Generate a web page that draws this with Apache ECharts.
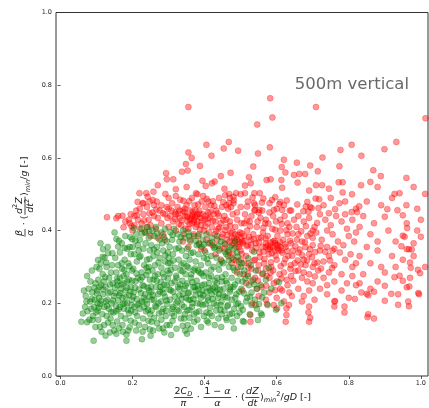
<!DOCTYPE html>
<html>
<head>
<meta charset="utf-8">
<script src="https://cdn.jsdelivr.net/npm/echarts/dist/echarts.min.js"></script>
<style>
  html, body { margin: 0; padding: 0; background: #fff; }
  #chart { width: 429px; height: 408px; }
</style>
</head>
<body>
<div id="chart"></div>
<script>
// Red cloud: [x, y] pairs
const redPoints = [
  // sparse upper points
  [0.355,0.740],[0.582,0.764],[0.709,0.740],[0.588,0.711],[0.546,0.692],[1.013,0.709],[0.405,0.636],[0.467,0.644],
  [0.453,0.626],[0.581,0.629],[0.808,0.636],[0.932,0.644],[0.899,0.624],[0.777,0.622],[0.355,0.615],[0.493,0.620],
  [0.548,0.612],[0.835,0.606],[0.727,0.601],[0.620,0.595],[0.656,0.587],[0.535,0.576],[0.614,0.575],[0.693,0.579],
  [0.774,0.577],[0.472,0.559],[0.624,0.560],[0.714,0.563],[0.868,0.566],[0.889,0.550],[0.523,0.547],[0.648,0.553],
  [0.663,0.556],[0.679,0.556],[0.419,0.606],[0.348,0.583],[0.364,0.600],[0.387,0.578],[0.293,0.558],[0.337,0.562],
  [0.353,0.565],[0.445,0.550],
  // 0.50 - 0.55
  [0.295,0.541],[0.313,0.541],[0.394,0.537],[0.428,0.535],[0.420,0.530],[0.403,0.523],[0.320,0.514],[0.583,0.541],
  [0.572,0.539],[0.528,0.530],[0.613,0.539],[0.658,0.532],[0.709,0.525],[0.726,0.525],[0.772,0.533],[0.783,0.533],
  [0.834,0.525],[0.860,0.534],[0.512,0.524],[0.615,0.518],[0.783,0.505],[0.809,0.500],[0.927,0.501],[0.941,0.503],
  [0.487,0.503],[0.512,0.503],[0.538,0.503],[0.553,0.503],[0.258,0.507],[0.238,0.503],[0.219,0.503],[0.291,0.501],
  [0.376,0.503],[0.468,0.501],[1.012,0.501],[0.350,0.520],[0.270,0.525],[0.455,0.515],[0.690,0.510],[0.745,0.515],
  [0.880,0.520],[0.960,0.545],[0.980,0.520],
  // 0.45 - 0.50
  [0.410,0.480],[0.423,0.481],[0.341,0.482],[0.357,0.481],[0.214,0.479],[0.228,0.475],[0.247,0.480],[0.267,0.480],
  [0.256,0.484],[0.457,0.497],[0.480,0.493],[0.396,0.495],[0.242,0.493],[0.559,0.477],[0.587,0.484],[0.610,0.479],
  [0.607,0.473],[0.481,0.483],[0.468,0.475],[0.537,0.475],[0.473,0.465],[0.518,0.466],[0.540,0.457],[0.552,0.457],
  [0.592,0.457],[0.615,0.457],[0.300,0.490],[0.320,0.495],[0.365,0.490],[0.380,0.500],[0.440,0.490],[0.500,0.500],
  // right side
  [0.900,0.438],[0.935,0.456],[0.907,0.459],[0.950,0.442],[0.961,0.420],[0.962,0.407],[0.955,0.383],[0.950,0.386],
  [1.000,0.383],[0.946,0.357],[0.961,0.349],[0.967,0.349],[0.975,0.348],[0.970,0.312],[0.972,0.298],[0.992,0.292],
  [0.998,0.283],[1.012,0.300],[0.927,0.272],[0.941,0.276],[0.950,0.262],[0.970,0.270],[0.968,0.246],[0.900,0.248],
  [0.937,0.225],[0.961,0.244],[0.995,0.225],[0.918,0.226],[0.900,0.207],[0.937,0.196],[0.965,0.205],[0.967,0.192],
  [0.993,0.228],[0.817,0.212],[0.835,0.230],[0.850,0.226],[0.854,0.222],[0.870,0.232],[0.820,0.250],[0.854,0.170],
  [0.852,0.162],[0.870,0.158],
  [0.930,0.370],[0.980,0.365],[0.990,0.400],[0.920,0.330],[0.890,0.300],[0.880,0.345],[0.860,0.390],[0.870,0.420],
  [0.840,0.440],[0.820,0.460],[0.850,0.480],[0.890,0.470],[0.920,0.490],[0.960,0.470],[0.990,0.460],[1.000,0.430],
  [0.910,0.400],[0.880,0.370],[0.850,0.355],[0.830,0.330],[0.860,0.310],[0.900,0.285],[0.840,0.280],[0.810,0.300],
  [0.880,0.260],[0.830,0.255],[0.860,0.240],[0.930,0.300],[0.950,0.320],[0.980,0.330],
  // middle right
  [0.674,0.453],[0.681,0.466],[0.697,0.462],[0.762,0.459],[0.808,0.451],[0.823,0.451],[0.708,0.488],[0.718,0.486],
  [0.685,0.479],[0.693,0.465],[0.774,0.475],[0.829,0.467],[0.636,0.455],[0.730,0.470],[0.750,0.490],[0.790,0.480],
  [0.660,0.440],[0.675,0.425],[0.690,0.435],[0.705,0.410],[0.720,0.445],[0.735,0.430],[0.750,0.415],[0.765,0.440],
  [0.780,0.425],[0.795,0.405],[0.810,0.430],[0.700,0.400],[0.740,0.400],[0.655,0.410],[0.790,0.445],[0.830,0.410],
  [0.660,0.390],[0.670,0.370],[0.685,0.385],[0.700,0.360],[0.710,0.395],[0.725,0.375],[0.740,0.355],[0.755,0.390],
  [0.770,0.370],[0.785,0.360],[0.800,0.385],[0.815,0.370],[0.700,0.380],[0.760,0.350],[0.820,0.395],[0.680,0.355],
  [0.660,0.340],[0.675,0.320],[0.690,0.335],[0.705,0.310],[0.720,0.345],[0.730,0.315],[0.745,0.330],[0.760,0.305],
  [0.775,0.340],[0.790,0.320],[0.805,0.335],[0.820,0.310],[0.700,0.300],[0.680,0.305],[0.755,0.345],
  [0.660,0.290],[0.670,0.270],[0.690,0.280],[0.700,0.255],[0.715,0.290],[0.730,0.270],[0.745,0.285],[0.760,0.260],
  [0.780,0.280],[0.795,0.255],[0.810,0.275],[0.685,0.260],[0.740,0.250],
  [0.660,0.240],[0.675,0.220],[0.690,0.235],[0.705,0.210],[0.720,0.240],[0.740,0.225],[0.760,0.205],[0.780,0.235],
  [0.800,0.215],[0.670,0.205],
  [0.690,0.149],[0.693,0.160],[0.688,0.175],[0.690,0.191],[0.788,0.175],[0.788,0.191],[0.760,0.191],[0.762,0.206],
  // left lobe
  [0.129,0.437],[0.155,0.434],[0.160,0.440],[0.172,0.441],[0.175,0.409],[0.190,0.430],[0.192,0.420],[0.195,0.445],
  [0.197,0.412],[0.200,0.400],[0.205,0.440],[0.210,0.455],[0.215,0.430],[0.220,0.460],[0.225,0.420],[0.230,0.445],
  [0.235,0.395],[0.240,0.465],[0.245,0.430],[0.250,0.415],[0.255,0.450],[0.260,0.470],[0.265,0.405],[0.270,0.435],
  [0.275,0.455],[0.280,0.420],[0.285,0.390],[0.290,0.445],[0.295,0.465],[0.300,0.410],[0.220,0.405],[0.180,0.425],
  [0.250,0.385],[0.270,0.380],[0.290,0.375],[0.205,0.415],[0.230,0.475],[0.260,0.440],[0.280,0.470],[0.240,0.410],
  // dense upper core
  [0.300,0.460],[0.305,0.440],[0.310,0.475],[0.312,0.425],[0.318,0.450],[0.320,0.400],[0.325,0.465],[0.330,0.435],
  [0.332,0.485],[0.335,0.415],[0.340,0.455],[0.342,0.390],[0.345,0.440],[0.350,0.470],[0.352,0.425],[0.355,0.405],
  [0.360,0.455],[0.362,0.435],[0.365,0.420],[0.368,0.445],[0.370,0.430],[0.372,0.470],[0.375,0.410],[0.378,0.440],
  [0.380,0.425],[0.382,0.385],[0.385,0.455],[0.388,0.435],[0.390,0.415],[0.392,0.480],[0.395,0.445],[0.398,0.400],
  [0.400,0.430],[0.402,0.465],[0.405,0.375],[0.408,0.420],[0.410,0.450],[0.412,0.395],[0.415,0.435],[0.418,0.470],
  [0.420,0.410],[0.422,0.360],[0.425,0.445],[0.428,0.390],[0.430,0.425],[0.432,0.455],[0.435,0.375],[0.438,0.405],
  [0.440,0.440],[0.442,0.350],[0.445,0.420],[0.448,0.465],[0.450,0.390],[0.340,0.370],[0.355,0.355],[0.370,0.390],
  [0.385,0.365],[0.400,0.345],[0.415,0.365],[0.430,0.335],[0.360,0.375],[0.390,0.350],[0.375,0.455],[0.360,0.430],
  [0.365,0.440],[0.370,0.425],[0.350,0.440],[0.330,0.455],[0.320,0.445],[0.345,0.460],[0.380,0.445],
  // dense central core
  [0.455,0.440],[0.460,0.410],[0.462,0.375],[0.465,0.460],[0.468,0.340],[0.470,0.425],[0.472,0.395],[0.475,0.360],
  [0.478,0.445],[0.480,0.320],[0.482,0.380],[0.485,0.410],[0.488,0.355],[0.490,0.430],[0.492,0.300],[0.495,0.370],
  [0.498,0.395],[0.500,0.345],[0.502,0.420],[0.505,0.365],[0.508,0.280],[0.510,0.385],[0.512,0.445],[0.515,0.330],
  [0.518,0.400],[0.520,0.360],[0.522,0.310],[0.525,0.425],[0.528,0.375],[0.530,0.260],[0.532,0.345],[0.535,0.390],
  [0.538,0.455],[0.540,0.320],[0.542,0.365],[0.545,0.410],[0.548,0.290],[0.550,0.380],[0.552,0.340],[0.555,0.435],
  [0.558,0.245],[0.560,0.355],[0.562,0.395],[0.565,0.310],[0.568,0.420],[0.570,0.365],[0.572,0.275],[0.575,0.385],
  [0.578,0.335],[0.580,0.450],[0.582,0.355],[0.585,0.300],[0.588,0.405],[0.590,0.370],[0.592,0.255],[0.595,0.345],
  [0.598,0.425],[0.600,0.320],[0.602,0.385],[0.605,0.360],[0.608,0.280],[0.610,0.400],[0.612,0.345],[0.615,0.235],
  [0.618,0.375],[0.620,0.310],[0.622,0.440],[0.625,0.355],[0.628,0.265],[0.630,0.390],[0.632,0.330],[0.635,0.410],
  [0.638,0.295],[0.640,0.365],[0.642,0.220],[0.645,0.345],[0.648,0.430],[0.650,0.310],[0.470,0.370],[0.475,0.380],
  [0.480,0.365],[0.490,0.375],[0.500,0.380],[0.505,0.370],[0.495,0.355],[0.485,0.390],[0.570,0.355],[0.575,0.360],
  [0.580,0.350],[0.590,0.355],[0.600,0.360],[0.605,0.345],[0.610,0.355],[0.595,0.365],[0.550,0.305],[0.560,0.280],
  [0.570,0.295],[0.580,0.270],[0.590,0.290],[0.600,0.260],[0.620,0.285],[0.630,0.250],[0.640,0.275],[0.540,0.270],
  [0.530,0.295],[0.520,0.280],[0.510,0.310],[0.500,0.320],[0.580,0.230],[0.600,0.215],[0.620,0.205],[0.550,0.220],
  [0.570,0.210],[0.610,0.240],[0.635,0.230],[0.527,0.168],[0.527,0.149],[0.532,0.200],[0.541,0.195],[0.573,0.198],
  [0.592,0.195],[0.601,0.186],[0.625,0.149],[0.627,0.168],[0.627,0.186],[0.634,0.195],[0.460,0.470],[0.470,0.490],
  [0.480,0.475],[0.500,0.465],[0.520,0.480],[0.540,0.470],[0.560,0.455],[0.580,0.475],[0.600,0.460],[0.620,0.470],
  [0.640,0.455],[0.630,0.420],[0.610,0.430],[0.590,0.440],[0.570,0.430],[0.550,0.450],[0.530,0.440],[0.510,0.420],
  [0.490,0.450],[0.460,0.430],[0.465,0.330],[0.475,0.310],[0.455,0.350],[0.445,0.320],[0.490,0.285],[0.515,0.255],
  [0.545,0.240],[0.505,0.235],
  // further core points
  [0.318,0.432],[0.327,0.447],[0.336,0.428],[0.344,0.451],[0.353,0.437],[0.358,0.418],[0.367,0.452],[0.373,0.438],
  [0.379,0.417],[0.386,0.446],[0.393,0.428],[0.403,0.441],[0.409,0.433],[0.416,0.452],[0.423,0.427],[0.436,0.447],
  [0.441,0.409],[0.452,0.428],[0.457,0.401],[0.463,0.388],[0.471,0.413],[0.477,0.397],[0.484,0.372],[0.493,0.388],
  [0.497,0.363],[0.503,0.392],[0.511,0.372],[0.517,0.357],[0.523,0.383],[0.529,0.361],[0.536,0.376],[0.543,0.352],
  [0.551,0.367],[0.557,0.381],[0.563,0.342],[0.569,0.378],[0.576,0.348],[0.583,0.367],[0.587,0.338],[0.594,0.372],
  [0.603,0.351],[0.609,0.368],[0.616,0.339],[0.623,0.362],[0.629,0.344],[0.637,0.372],[0.643,0.331],[0.652,0.357],
  [0.658,0.318],[0.664,0.348],[0.671,0.332],[0.678,0.368],[0.684,0.318],[0.692,0.349],[0.698,0.327],[0.707,0.341],
  [0.713,0.312],[0.722,0.358],[0.735,0.342],[0.748,0.318],[0.517,0.428],[0.526,0.412],[0.547,0.425],[0.563,0.408],
  [0.577,0.419],[0.596,0.402],[0.614,0.418],[0.627,0.401],[0.644,0.392],[0.656,0.375],[0.668,0.398],[0.681,0.412],
  [0.694,0.392],[0.712,0.421],[0.537,0.318],[0.553,0.327],[0.566,0.322],[0.584,0.313],[0.597,0.331],[0.611,0.302],
  [0.624,0.322],[0.639,0.305],[0.652,0.289],[0.667,0.307],[0.583,0.285],[0.613,0.268],[0.646,0.262],[0.675,0.285],
  [0.706,0.274],[0.723,0.296],[0.754,0.297],[0.522,0.298],[0.548,0.262],[0.571,0.248],[0.596,0.236],[0.478,0.336],
  [0.487,0.318],[0.503,0.336],[0.457,0.362],[0.447,0.382],[0.432,0.398],[0.402,0.412],[0.387,0.402],[0.347,0.405],
  [0.328,0.418],[0.308,0.455],[0.297,0.435],[0.284,0.448],[0.266,0.458],[0.247,0.448],[0.232,0.428],[0.212,0.442],
  [0.382,0.472],[0.406,0.487],[0.427,0.468],[0.452,0.478],[0.533,0.491],[0.563,0.488],[0.596,0.492],[0.628,0.483],
  [0.657,0.472],[0.688,0.452],[0.716,0.462],[0.745,0.448]
];

// Green cloud: [x, y] pairs
const greenPoints = [
  [0.058,0.149],[0.074,0.148],[0.089,0.154],[0.092,0.097],[0.074,0.275],[0.065,0.235],[0.070,0.220],[0.078,0.240],
  [0.082,0.205],[0.068,0.190],[0.075,0.178],[0.085,0.185],[0.062,0.172],[0.090,0.165],[0.095,0.210],[0.088,0.230],
  [0.097,0.255],[0.083,0.260],[0.093,0.190],[0.072,0.205],[0.099,0.175],[0.080,0.155],[0.097,0.135],[0.087,0.290],
  [0.100,0.300],
  [0.114,0.122],[0.125,0.111],[0.121,0.140],[0.132,0.147],[0.111,0.365],[0.118,0.349],[0.132,0.338],[0.104,0.319],
  [0.112,0.310],[0.122,0.325],[0.108,0.295],[0.128,0.300],[0.140,0.285],[0.117,0.280],[0.105,0.265],[0.135,0.270],
  [0.145,0.255],[0.113,0.250],[0.125,0.245],[0.102,0.235],[0.138,0.232],[0.148,0.220],[0.118,0.225],[0.107,0.215],
  [0.130,0.210],[0.142,0.200],[0.110,0.198],[0.121,0.190],[0.134,0.185],[0.103,0.180],[0.147,0.175],[0.116,0.170],
  [0.128,0.165],[0.139,0.158],[0.105,0.155],[0.145,0.140],[0.110,0.135],[0.149,0.125],[0.137,0.120],[0.103,0.200],
  [0.126,0.205],[0.143,0.305],[0.131,0.355],[0.120,0.260],[0.108,0.245],
  [0.155,0.116],[0.173,0.122],[0.183,0.097],[0.183,0.114],[0.192,0.134],[0.150,0.395],[0.155,0.377],[0.160,0.356],
  [0.199,0.376],[0.170,0.365],[0.185,0.350],[0.165,0.340],[0.195,0.335],[0.152,0.325],[0.178,0.320],[0.188,0.310],
  [0.160,0.305],[0.171,0.295],[0.198,0.290],[0.155,0.285],[0.183,0.280],[0.165,0.270],[0.190,0.265],[0.175,0.255],
  [0.158,0.250],[0.195,0.245],[0.168,0.240],[0.180,0.235],[0.153,0.228],[0.190,0.222],[0.172,0.215],[0.160,0.208],
  [0.185,0.200],[0.197,0.195],[0.165,0.190],[0.176,0.185],[0.155,0.178],[0.190,0.172],[0.168,0.165],[0.180,0.158],
  [0.157,0.150],[0.195,0.152],[0.172,0.140],[0.162,0.132],[0.188,0.125],[0.178,0.200],[0.163,0.222],[0.198,0.210],
  [0.185,0.260],[0.170,0.310],[0.192,0.355],[0.180,0.385],[0.158,0.260],[0.175,0.275],[0.196,0.180],
  [0.203,0.407],[0.206,0.147],[0.226,0.101],[0.228,0.122],[0.210,0.390],[0.220,0.375],[0.235,0.395],[0.245,0.380],
  [0.215,0.360],[0.230,0.350],[0.248,0.345],[0.205,0.335],[0.222,0.330],[0.240,0.320],[0.212,0.315],[0.232,0.305],
  [0.245,0.300],[0.202,0.295],[0.225,0.285],[0.238,0.278],[0.215,0.270],[0.248,0.265],[0.208,0.260],[0.228,0.250],
  [0.242,0.243],[0.218,0.238],[0.203,0.230],[0.235,0.225],[0.247,0.218],[0.212,0.212],[0.226,0.205],[0.240,0.198],
  [0.205,0.190],[0.220,0.185],[0.237,0.178],[0.249,0.170],[0.213,0.165],[0.229,0.158],[0.244,0.152],[0.207,0.175],
  [0.218,0.140],[0.235,0.135],[0.248,0.128],[0.210,0.125],[0.232,0.190],[0.222,0.265],[0.243,0.288],[0.217,0.345],
  [0.236,0.365],[0.225,0.405],[0.241,0.410],[0.200,0.355],[0.231,0.215],[0.219,0.200],[0.246,0.235],
  [0.250,0.111],[0.253,0.149],[0.274,0.131],[0.284,0.131],[0.255,0.400],[0.265,0.410],[0.280,0.395],[0.290,0.405],
  [0.260,0.385],[0.275,0.375],[0.295,0.370],[0.252,0.360],[0.268,0.355],[0.285,0.345],[0.298,0.340],[0.258,0.330],
  [0.275,0.325],[0.290,0.315],[0.262,0.305],[0.280,0.298],[0.255,0.290],[0.297,0.290],[0.270,0.280],[0.287,0.272],
  [0.258,0.265],[0.278,0.258],[0.295,0.250],[0.265,0.245],[0.283,0.238],[0.252,0.232],[0.271,0.225],[0.290,0.218],
  [0.260,0.210],[0.279,0.205],[0.296,0.198],[0.266,0.190],[0.285,0.185],[0.253,0.180],[0.273,0.172],[0.292,0.165],
  [0.260,0.160],[0.280,0.155],[0.268,0.145],[0.295,0.140],[0.257,0.125],[0.288,0.120],[0.272,0.200],[0.286,0.228],
  [0.262,0.275],[0.299,0.310],[0.268,0.340],[0.282,0.365],[0.253,0.210],[0.277,0.245],[0.293,0.180],
  [0.307,0.113],[0.311,0.152],[0.339,0.138],[0.305,0.395],[0.315,0.405],[0.325,0.390],[0.340,0.400],[0.310,0.375],
  [0.330,0.370],[0.345,0.380],[0.303,0.355],[0.320,0.350],[0.337,0.345],[0.348,0.330],[0.312,0.335],[0.328,0.320],
  [0.305,0.310],[0.342,0.310],[0.318,0.298],[0.333,0.290],[0.302,0.282],[0.347,0.280],[0.322,0.270],[0.338,0.262],
  [0.308,0.255],[0.326,0.245],[0.344,0.240],[0.313,0.232],[0.330,0.222],[0.348,0.215],[0.304,0.210],[0.321,0.200],
  [0.337,0.195],[0.310,0.185],[0.328,0.178],[0.345,0.170],[0.315,0.165],[0.334,0.158],[0.303,0.140],[0.322,0.130],
  [0.346,0.125],[0.330,0.240],[0.317,0.260],[0.306,0.235],[0.340,0.225],[0.325,0.205],[0.312,0.190],[0.343,0.190],
  [0.335,0.305],[0.300,0.325],
  [0.351,0.116],[0.353,0.140],[0.371,0.149],[0.355,0.395],[0.370,0.385],[0.385,0.390],[0.395,0.375],[0.360,0.370],
  [0.378,0.360],[0.392,0.355],[0.352,0.350],[0.368,0.340],[0.383,0.335],[0.398,0.325],[0.358,0.320],[0.375,0.315],
  [0.390,0.305],[0.355,0.298],[0.370,0.290],[0.386,0.285],[0.397,0.275],[0.362,0.270],[0.378,0.262],[0.352,0.255],
  [0.393,0.250],[0.368,0.245],[0.383,0.238],[0.357,0.230],[0.375,0.222],[0.390,0.215],[0.360,0.210],[0.380,0.200],
  [0.395,0.195],[0.365,0.190],[0.352,0.180],[0.385,0.178],[0.370,0.170],[0.398,0.165],[0.358,0.160],[0.380,0.155],
  [0.390,0.135],[0.362,0.130],[0.375,0.235],[0.388,0.225],[0.366,0.200],[0.355,0.210],[0.382,0.290],[0.363,0.280],
  [0.394,0.235],[0.372,0.245],
  [0.406,0.152],[0.410,0.147],[0.405,0.390],[0.420,0.380],[0.435,0.385],[0.445,0.370],[0.410,0.365],[0.428,0.355],
  [0.440,0.345],[0.402,0.340],[0.418,0.330],[0.433,0.325],[0.448,0.315],[0.410,0.310],[0.425,0.300],[0.440,0.292],
  [0.403,0.285],[0.418,0.275],[0.435,0.270],[0.448,0.260],[0.412,0.255],[0.428,0.245],[0.443,0.238],[0.405,0.232],
  [0.420,0.225],[0.437,0.215],[0.410,0.208],[0.426,0.200],[0.444,0.195],[0.415,0.188],[0.432,0.180],[0.405,0.175],
  [0.447,0.170],[0.420,0.165],[0.438,0.158],[0.428,0.140],[0.446,0.135],[0.415,0.235],[0.430,0.232],[0.422,0.240],
  [0.440,0.225],[0.408,0.215],[0.434,0.255],[0.412,0.270],[0.447,0.205],
  [0.461,0.154],[0.481,0.131],[0.455,0.365],[0.470,0.355],[0.485,0.370],[0.490,0.340],[0.460,0.335],[0.475,0.325],
  [0.495,0.315],[0.452,0.310],[0.468,0.300],[0.483,0.290],[0.458,0.280],[0.475,0.270],[0.492,0.262],[0.462,0.255],
  [0.480,0.245],[0.453,0.240],[0.470,0.232],[0.488,0.225],[0.457,0.218],[0.475,0.210],[0.493,0.200],[0.465,0.195],
  [0.482,0.185],[0.455,0.180],[0.470,0.170],[0.490,0.165],[0.460,0.160],[0.478,0.150],[0.497,0.175],[0.472,0.245],
  [0.485,0.215],[0.463,0.215],[0.498,0.280],
  [0.509,0.149],[0.537,0.342],[0.521,0.324],[0.500,0.300],[0.510,0.290],[0.503,0.310],[0.523,0.250],[0.510,0.227],
  [0.506,0.182],[0.506,0.151],[0.548,0.154],[0.520,0.275],[0.535,0.265],[0.545,0.240],[0.515,0.205],[0.530,0.195],
  [0.540,0.210],[0.525,0.170],[0.545,0.185],[0.505,0.260],[0.530,0.230],[0.518,0.215],[0.542,0.290],[0.528,0.305],
  [0.502,0.240],
  [0.559,0.168],[0.578,0.298],[0.559,0.216],[0.606,0.258],[0.613,0.200],[0.598,0.182],[0.556,0.172],[0.565,0.230],
  [0.575,0.195],[0.585,0.240],[0.570,0.265],[0.556,0.250],
  // further core points
  [0.087,0.212],[0.094,0.243],[0.101,0.227],[0.106,0.188],[0.113,0.207],[0.119,0.238],[0.124,0.272],[0.129,0.193],
  [0.133,0.228],[0.137,0.252],[0.141,0.176],[0.146,0.208],[0.151,0.243],[0.154,0.192],[0.157,0.268],[0.161,0.183],
  [0.166,0.228],[0.169,0.252],[0.173,0.198],[0.177,0.292],[0.181,0.217],[0.184,0.243],[0.187,0.182],[0.191,0.302],
  [0.194,0.232],[0.199,0.262],[0.202,0.218],[0.207,0.243],[0.211,0.282],[0.214,0.196],[0.219,0.327],[0.223,0.228],
  [0.227,0.272],[0.232,0.247],[0.236,0.208],[0.239,0.298],[0.243,0.182],[0.247,0.322],[0.251,0.246],[0.256,0.222],
  [0.259,0.348],[0.263,0.193],[0.267,0.262],[0.272,0.312],[0.276,0.232],[0.281,0.176],[0.284,0.282],[0.288,0.252],
  [0.291,0.332],[0.294,0.208],[0.298,0.268],[0.302,0.238],[0.306,0.292],[0.309,0.172],[0.313,0.318],[0.317,0.218],
  [0.321,0.276],[0.324,0.182],[0.328,0.352],[0.332,0.252],[0.336,0.212],[0.339,0.288],[0.343,0.158],[0.347,0.248],
  [0.351,0.302],[0.354,0.228],[0.358,0.182],[0.362,0.338],[0.366,0.258],[0.369,0.212],[0.373,0.296],[0.377,0.175],
  [0.381,0.248],[0.384,0.362],[0.388,0.198],[0.391,0.282],[0.396,0.222],[0.399,0.252],[0.403,0.198],[0.407,0.322],
  [0.411,0.242],[0.414,0.172],[0.418,0.292],[0.422,0.212],[0.426,0.352],[0.429,0.262],[0.433,0.195],[0.436,0.238],
  [0.441,0.308],[0.444,0.182],[0.448,0.272],[0.451,0.222],[0.456,0.342],[0.459,0.262],[0.463,0.192],[0.467,0.318],
  [0.471,0.238],[0.476,0.172],[0.479,0.298],[0.484,0.252],[0.488,0.198],[0.492,0.328],[0.496,0.232],[0.501,0.192],
  [0.513,0.268],[0.526,0.218],[0.538,0.252],[0.551,0.198],[0.562,0.282],[0.117,0.328],[0.127,0.312],[0.144,0.338],
  [0.162,0.372],[0.178,0.352],[0.194,0.382],[0.208,0.372],[0.226,0.392],[0.246,0.398],[0.268,0.392],[0.287,0.382],
  [0.311,0.388],[0.334,0.382],[0.357,0.385],[0.376,0.372],[0.398,0.362],[0.421,0.368],[0.438,0.358],[0.466,0.345],
  [0.483,0.352]
];

// Annotation placed in data coordinates
const annotationText = '500m vertical';
const annotationAt = [0.65, 0.80];

// Axis ranges and tick step
const xRange = [0, 1];
const yRange = [0, 1];
const tickStep = 0.2;

// ---- small math-label typesetter (fractions, sub/superscripts) ----
const INK = '#1a1a1a';
const FAMILY = '"DejaVu Sans"';
const measureCtx = document.createElement('canvas').getContext('2d');
function fontStr(size, italic) {
  return (italic ? 'italic ' : '') + size.toFixed(2) + 'px ' + FAMILY;
}
function textWidth(s, size, italic) {
  measureCtx.font = fontStr(size, italic);
  return measureCtx.measureText(s).width;
}
function textEl(s, x, y, size, italic) {
  return {
    type: 'text', x: x, y: y, silent: true,
    style: {
      text: s, font: fontStr(size, italic), fill: INK,
      align: 'left', verticalAlign: 'middle',
      textAlign: 'left', textVerticalAlign: 'middle'
    }
  };
}
function layoutRuns(runs, size, x, y, out) {
  for (const r of runs) {
    if (r.frac) {
      const nw = layoutRuns(r.frac[0], size, 0, 0, []);
      const dw = layoutRuns(r.frac[1], size, 0, 0, []);
      const w = Math.max(nw, dw) + size * 0.3;
      layoutRuns(r.frac[0], size, x + (w - nw) / 2, y - size * 0.62, out);
      layoutRuns(r.frac[1], size, x + (w - dw) / 2, y + size * 0.62, out);
      out.push({
        type: 'line', silent: true,
        shape: { x1: x + size * 0.08, y1: y, x2: x + w - size * 0.08, y2: y },
        style: { stroke: INK, lineWidth: 0.8 }
      });
      x += w;
    } else {
      const small = r.sub || r.sup;
      const sz = small ? size * 0.7 : size;
      const dy = r.sub ? size * 0.3 : (r.sup ? -size * 0.38 : 0);
      out.push(textEl(r.s, x, y + dy, sz, r.it));
      x += textWidth(r.s, sz, r.it);
    }
  }
  return x;
}
function mathGroup(runs, size, cx, cy, rotation) {
  const total = layoutRuns(runs, size, 0, 0, []);
  const children = [];
  layoutRuns(runs, size, -total / 2, 0, children);
  return { type: 'group', x: cx, y: cy, rotation: rotation || 0, children: children };
}

const xLabelRuns = [
  { frac: [[{ s: '2' }, { s: 'C', it: 1 }, { s: 'D', it: 1, sub: 1 }], [{ s: 'π', it: 1 }]] },
  { s: ' · ' },
  { frac: [[{ s: '1 − ' }, { s: 'α', it: 1 }], [{ s: 'α', it: 1 }]] },
  { s: ' · (' },
  { frac: [[{ s: 'dZ', it: 1 }], [{ s: 'dt', it: 1 }]] },
  { s: ')' }, { s: 'min', it: 1, sub: 1 }, { s: '2', sup: 1 },
  { s: '/' }, { s: 'gD', it: 1 }, { s: ' [-]' }
];
const yLabelRuns = [
  { frac: [[{ s: 'β', it: 1 }], [{ s: 'α', it: 1 }]] },
  { s: ' · (' },
  { frac: [[{ s: 'd', it: 1 }, { s: '2', sup: 1 }, { s: 'Z', it: 1 }], [{ s: 'dt', it: 1 }, { s: '2', sup: 1 }]] },
  { s: ')' }, { s: 'min', it: 1, sub: 1 },
  { s: '/' }, { s: 'g', it: 1 }, { s: ' [-]' }
];

const chart = echarts.init(document.getElementById('chart'), null, { renderer: 'canvas' });

const tickLabel = {
  fontFamily: FAMILY, fontSize: 6.5, color: '#222', margin: 4,
  formatter: v => v.toFixed(1)
};
const tickStyle = { show: true, length: 3, lineStyle: { color: '#333', width: 0.8 } };

const RED = 'rgba(255,0,0,0.5)';
const GREEN = 'rgba(0,128,0,0.5)';

chart.setOption({
  animation: false,
  backgroundColor: '#fff',
  grid: [
    { left: 60.5, right: 6, top: 12.5, bottom: 32, show: false },
    { left: 56, right: 1, top: 12.5, bottom: 32, show: true,
      borderColor: '#333', borderWidth: 1, backgroundColor: 'transparent' }
  ],
  xAxis: [
    { gridIndex: 0, type: 'value', min: xRange[0], max: xRange[1], interval: tickStep,
      axisLine: { show: false }, axisTick: tickStyle, axisLabel: tickLabel, splitLine: { show: false } },
    { gridIndex: 1, type: 'value', show: false, min: 0, max: 1 }
  ],
  yAxis: [
    { gridIndex: 0, type: 'value', min: yRange[0], max: yRange[1], interval: tickStep, offset: 4.5,
      axisLine: { show: false }, axisTick: tickStyle, axisLabel: tickLabel, splitLine: { show: false } },
    { gridIndex: 1, type: 'value', show: false, min: 0, max: 1 }
  ],
  series: [
    {
      type: 'scatter', xAxisIndex: 0, yAxisIndex: 0, data: redPoints, clip: false, silent: true,
      symbolSize: 6, itemStyle: { color: RED, borderColor: RED, borderWidth: 0.7 }
    },
    {
      type: 'scatter', xAxisIndex: 0, yAxisIndex: 0, data: greenPoints, clip: false, silent: true,
      symbolSize: 6, itemStyle: { color: GREEN, borderColor: GREEN, borderWidth: 0.7 }
    },
    {
      type: 'scatter', xAxisIndex: 0, yAxisIndex: 0, data: [annotationAt], symbolSize: 0, silent: true,
      label: {
        show: true, position: 'right', distance: 0, formatter: annotationText,
        fontFamily: FAMILY, fontSize: 16.5, color: '#444'
      }
    }
  ],
  graphic: {
    elements: [
      mathGroup(xLabelRuns, 9.5, 242, 397.5, 0),
      mathGroup(yLabelRuns, 9.5, 25, 197, Math.PI / 2)
    ]
  }
});
</script>
</body>
</html>
